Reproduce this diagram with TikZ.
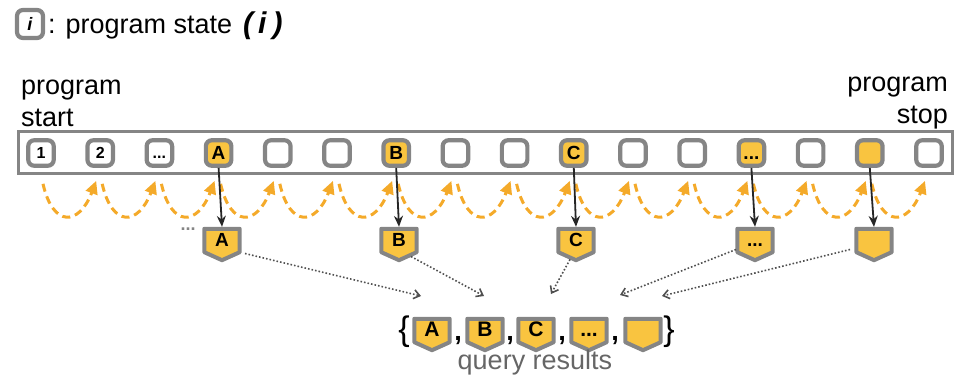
\documentclass[tikz,border=0pt]{standalone}
\usepackage{fontspec}
\setmainfont{Liberation Sans}
\usetikzlibrary{arrows.meta,calc}
\definecolor{stategray}{HTML}{858585}
\definecolor{stateyellow}{HTML}{F9C440}
\definecolor{traceorange}{HTML}{F4AA2A}
\definecolor{linkgray}{HTML}{505050}
\definecolor{labelgray}{HTML}{666666}
\pgfdeclarelayer{shieldlayer}
\pgfsetlayers{shieldlayer,main}

\begin{document}
\begin{tikzpicture}[x=1pt,y=-1pt,
  cell/.style={draw=stategray, line width=4.2pt, rounded corners=6pt, fill=white,
    minimum width=25.5pt, minimum height=25.5pt, inner sep=0pt,
    font=\bfseries\fontsize{16}{16}\selectfont},
  hit/.style={cell, fill=stateyellow, font=\bfseries\fontsize{19}{19}\selectfont},
  % pentagon badge: the node is the square body, the point hangs below it
  shield/.style={minimum width=39pt, minimum height=25pt, inner sep=0pt,
    font=\bfseries\fontsize{19}{19}\selectfont,
    append after command={\pgfextra{\begin{pgfonlayer}{shieldlayer}
      \draw[draw=stategray, fill=stateyellow, line width=4pt, line join=round]
        ($(\tikzlastnode.north west)+(2,2)$) -- ($(\tikzlastnode.north east)+(-2,2)$)
        -- ($(\tikzlastnode.south east)+(-2,0)$) -- ($(\tikzlastnode.south)+(0,8)$)
        -- ($(\tikzlastnode.south west)+(2,0)$) -- cycle;
      \end{pgfonlayer}}}},
  bigshield/.style={shield, font=\bfseries\fontsize{21}{21}\selectfont},
  hop/.style={draw=traceorange, line width=3pt, dash pattern=on 8pt off 5pt,
    -{Triangle[length=13pt,width=12pt]}},
  fetch/.style={-{Stealth[length=11pt,width=9pt]}, line width=1.8pt, black!85},
  collect/.style={dotted, line width=1.6pt, linkgray,
    -{Straight Barb[length=6pt,width=9pt]}},
  txt/.style={font=\fontsize{27}{32}\selectfont, inner sep=0pt}
]
\useasboundingbox (0,0) rectangle (961,391);

% legend
\node[cell, minimum width=26pt, minimum height=28pt,
      font=\bfseries\itshape\fontsize{18}{18}\selectfont] (key) at (30,24) {i};
\node[txt, anchor=base west] (keytext) at (48,33) {: program state};
\node[txt, anchor=base west, font=\bfseries\itshape\fontsize{30}{30}\selectfont]
     (keyvar) at (243,33) {(\hspace{5pt}i\hspace{6pt})};

% start / stop labels
\node[txt, anchor=south west, align=left] (startlbl) at (21,127) {program\\start};
\node[txt, anchor=south east, align=right] (stoplbl) at (948,129) {program\\stop};

% execution trace frame
\draw[stategray, line width=3pt] (18,131.5) rectangle (952,173.5);

% program states
\foreach \k/\lbl/\sty in {1/1/cell, 2/2/cell, 3/{...\vphantom{A}}/cell, 4/A/hit,
    5//cell, 6//cell, 7/B/hit, 8//cell, 9//cell, 10/C/hit, 11//cell, 12//cell,
    13/{...\vphantom{A}}/hit, 14//cell, 15//hit, 16//cell}
  \node[\sty] (c\k) at ({41+59.2*(\k-1)},153) {\lbl};

% transitions between consecutive states
\foreach \k [evaluate=\k as \nk using int(\k+1)] in {1,...,15}
  \draw[hop] ($(c\k.south)+(2,16)$) .. controls ($(c\k.south)+(12,60)$)
        and ($(c\k.south)+(38,58)$) .. ($(c\nk.south)+(-4,13)$);

% captured states
\node[text=stategray, font=\bfseries\fontsize{18}{18}\selectfont] (more) at (188,229) {...};
\node[shield] (sA) at (222,239.5) {A};
\node[shield] (sB) at (399,239.5) {B};
\node[shield] (sC) at (576,239.5) {C};
\node[shield] (sD) at (755,239.5) {...\vphantom{A}};
\node[shield] (sE) at (874,239.5) {};

\draw[fetch] (c4.south) -- (sA.north);
\draw[fetch] (c7.south) -- (sB.north);
\draw[fetch] (c10.south) -- (sC.north);
\draw[fetch] (c13.south) -- (sD.north);
\draw[fetch] (c15.south) -- (sE.north);

% query result set
\node[font=\fontsize{34}{34}\selectfont, inner sep=0pt] (lbrace) at (404,332) {\{};
\node[bigshield] (rA) at (432,329.5) {A};
\node[font=\bfseries\fontsize{27}{27}\selectfont, anchor=base] (k1) at (458,340) {,};
\node[bigshield] (rB) at (485,329.5) {B};
\node[font=\bfseries\fontsize{27}{27}\selectfont, anchor=base] (k2) at (510,340) {,};
\node[bigshield] (rC) at (536,329.5) {C};
\node[font=\bfseries\fontsize{27}{27}\selectfont, anchor=base] (k3) at (562,340) {,};
\node[bigshield] (rD) at (589,329.5) {...\vphantom{A}};
\node[font=\bfseries\fontsize{27}{27}\selectfont, anchor=base] (k4) at (615,340) {,};
\node[bigshield] (rE) at (643,329.5) {};
\node[font=\fontsize{34}{34}\selectfont, inner sep=0pt] (rbrace) at (669,332) {\}};
\node[txt, anchor=base, text=labelgray] (qlbl) at (535,369) {query results};

\coordinate (tA) at (421,296);
\coordinate (tB) at (484,296);
\coordinate (tC) at (551,294);
\coordinate (tD) at (620,295);
\coordinate (tE) at (662,296);
\draw[collect] ($(sA.center)+(23,14)$) -- (tA);
\draw[collect] ($(sB.center)+(12,17)$) -- (tB);
\draw[collect] ($(sC.center)+(-6,20)$) -- (tC);
\draw[collect] ($(sD.center)+(-19,10)$) -- (tD);
\draw[collect] ($(sE.center)+(-24,10)$) -- (tE);
\end{tikzpicture}
\end{document}
